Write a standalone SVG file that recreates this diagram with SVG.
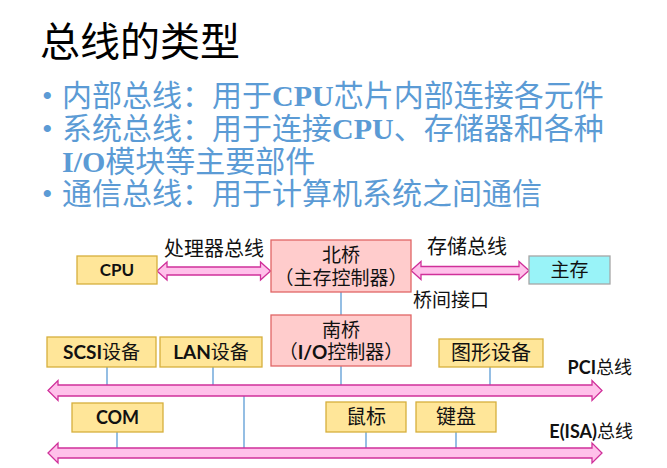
<svg xmlns="http://www.w3.org/2000/svg" width="667" height="468" viewBox="0 0 667 468">
<style>
.title{font-family:"Noto Sans CJK SC",sans-serif;font-size:40px;fill:#000}
.bl{font-family:"Liberation Serif","Noto Sans CJK SC",serif;font-size:30px;fill:#5B9BD5}
.bl .cjk{font-family:"Noto Sans CJK SC",sans-serif}
.bl .lat{font-weight:bold}
.t{font-family:"Lato","Noto Sans CJK SC",sans-serif;font-size:19px;fill:#111}
.b{font-weight:bold}
.yel{fill:#FFE699;stroke:#D6AF3C;stroke-width:1.3}
.red{fill:#FFCCCC;stroke:#E06666;stroke-width:1.3}
.cyan{fill:#99F3F8;stroke:#A6A6A6;stroke-width:1.3}
.bus{fill:#FFC1EA;stroke:#D0309A;stroke-width:1.3}
.ln{stroke:#5B9BD5;stroke-width:1.3;fill:none}
</style>
<text class="title" x="40" y="56">总线的类型</text>
<g id="bullets">
<text class="bl" x="42" y="106">•</text>
<text class="bl" x="62" y="106"><tspan class="cjk">内部总线：用于</tspan><tspan class="lat">CPU</tspan><tspan class="cjk">芯片内部连接各元件</tspan></text>
<text class="bl" x="42" y="139">•</text>
<text class="bl" x="62" y="139"><tspan class="cjk">系统总线：用于连接</tspan><tspan class="lat">CPU</tspan><tspan class="cjk">、存储器和各种</tspan></text>
<text class="bl" x="62" y="172"><tspan class="lat">I/O</tspan><tspan class="cjk">模块等主要部件</tspan></text>
<text class="bl" x="42" y="204">•</text>
<text class="bl" x="62" y="204"><tspan class="cjk">通信总线：用于计算机系统之间通信</tspan></text>
</g>
<g id="connectors">
<line class="ln" x1="341" y1="292" x2="341" y2="315"/>
<line class="ln" x1="341" y1="366" x2="341" y2="385"/>
<line class="ln" x1="107" y1="367" x2="107" y2="385"/>
<line class="ln" x1="213" y1="367" x2="213" y2="385"/>
<line class="ln" x1="490" y1="367" x2="490" y2="385"/>
<line class="ln" x1="244" y1="396" x2="244" y2="448"/>
<line class="ln" x1="117" y1="432" x2="117" y2="448"/>
<line class="ln" x1="366" y1="432" x2="366" y2="448"/>
<line class="ln" x1="456" y1="432" x2="456" y2="448"/>
<path id="cpu-bus" class="bus" d="M157,271 L167,262 L167,267 L260.5,267 L260.5,262 L270.5,271 L260.5,280 L260.5,275 L167,275 L167,280 Z"/>
<path id="mem-bus" class="bus" d="M411,270.5 L421,261.5 L421,266.5 L519,266.5 L519,261.5 L529,270.5 L519,279.5 L519,274.5 L421,274.5 L421,279.5 Z"/>
<path id="pci-bus" class="bus" d="M48,390.5 L58,380.5 L58,385 L592,385 L592,380.5 L602,390.5 L592,400.5 L592,396 L58,396 L58,400.5 Z"/>
<path id="isa-bus" class="bus" d="M48,453 L58,443 L58,448 L592,448 L592,443 L602,453 L592,463 L592,458 L58,458 L58,463 Z"/>
<text class="t" x="164" y="256" style="font-size:20px">处理器总线</text>
<text class="t" x="427" y="254" style="font-size:20px">存储总线</text>
<text class="t" x="413" y="307">桥间接口</text>
<text class="t" x="632" y="374" text-anchor="end" style="font-size:18px"><tspan class="b">PCI</tspan>总线</text>
<text class="t" x="633" y="438" text-anchor="end" style="font-size:18px"><tspan class="b">E(ISA)</tspan>总线</text>
</g>
<g id="cpu">
<rect class="yel" x="77" y="256" width="80" height="28"/>
<text class="t b" x="117" y="276" text-anchor="middle" style="font-size:17px">CPU</text>
</g>
<g id="northbridge">
<rect class="red" x="271" y="240" width="140" height="52"/>
<text class="t" x="341" y="262" text-anchor="middle">北桥</text>
<text class="t" x="341" y="285" text-anchor="middle">（主存控制器）</text>
</g>
<g id="memory">
<rect class="cyan" x="529" y="256" width="81" height="28"/>
<text class="t" x="569.5" y="277" text-anchor="middle">主存</text>
</g>
<g id="southbridge">
<rect class="red" x="271" y="315" width="140" height="51"/>
<text class="t" x="341" y="337" text-anchor="middle">南桥</text>
<text class="t" x="341" y="359" text-anchor="middle">（<tspan class="b">I/O</tspan>控制器）</text>
</g>
<g id="scsi">
<rect class="yel" x="47" y="337" width="109" height="30"/>
<text class="t" x="101.5" y="359" text-anchor="middle"><tspan class="b">SCSI</tspan>设备</text>
</g>
<g id="lan">
<rect class="yel" x="160" y="337" width="102" height="30"/>
<text class="t" x="211" y="359" text-anchor="middle"><tspan class="b">LAN</tspan>设备</text>
</g>
<g id="graphics">
<rect class="yel" x="439" y="339" width="104" height="28"/>
<text class="t" x="491" y="360" text-anchor="middle" style="font-size:20px">图形设备</text>
</g>
<g id="com">
<rect class="yel" x="72" y="403" width="91" height="29"/>
<text class="t b" x="117.5" y="424" text-anchor="middle" style="font-size:18px">COM</text>
</g>
<g id="mouse">
<rect class="yel" x="326" y="402" width="80" height="30"/>
<text class="t" x="366" y="424" text-anchor="middle" style="font-size:20px">鼠标</text>
</g>
<g id="keyboard">
<rect class="yel" x="416" y="402" width="80" height="30"/>
<text class="t" x="456" y="424" text-anchor="middle" style="font-size:20px">键盘</text>
</g>
</svg>
